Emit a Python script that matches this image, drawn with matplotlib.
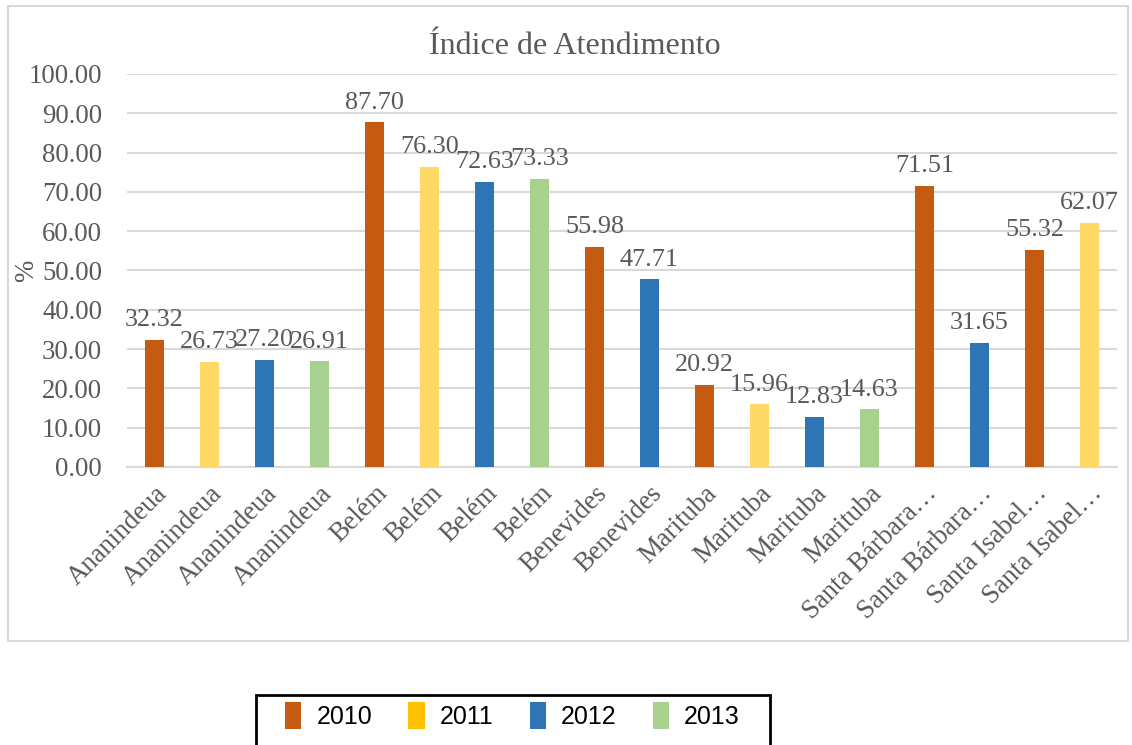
import matplotlib.pyplot as plt
from matplotlib.patches import Patch, Rectangle

categories = ['Ananindeua', 'Ananindeua', 'Ananindeua', 'Ananindeua',
              'Belém', 'Belém', 'Belém', 'Belém',
              'Benevides', 'Benevides',
              'Marituba', 'Marituba', 'Marituba', 'Marituba',
              'Santa Bárbara…', 'Santa Bárbara…',
              'Santa Isabel…', 'Santa Isabel…']
years = [2010, 2011, 2012, 2013,
         2010, 2011, 2012, 2013,
         2010, 2012,
         2010, 2011, 2012, 2013,
         2010, 2012,
         2010, 2011]
values = [32.32, 26.73, 27.20, 26.91,
          87.70, 76.30, 72.63, 73.33,
          55.98, 47.71,
          20.92, 15.96, 12.83, 14.63,
          71.51, 31.65,
          55.32, 62.07]

bar_colors = {2010: '#C55A11', 2011: '#FFD966', 2012: '#2E75B6', 2013: '#A9D18E'}
legend_colors = {2010: '#C55A11', 2011: '#FFC000', 2012: '#2E75B6', 2013: '#A9D18E'}

serif = 'Liberation Serif'
txt = '#595959'
W, H = 1132, 745

fig = plt.figure(figsize=(11.32, 7.45), dpi=100)
ax = fig.add_axes([0.1122, 0.3732, 0.8745, 0.5275])

# outer chart border
fig.patches.append(Rectangle((8 / W, 1 - 641 / H), 1120 / W, 635 / H,
                             transform=fig.transFigure, fill=False,
                             edgecolor='#D9D9D9', linewidth=1.5))
# legend box (runs off the bottom edge, as in the source)
fig.patches.append(Rectangle((256 / W, 1 - 770 / H), 514 / W, 75 / H,
                             transform=fig.transFigure, fill=False,
                             edgecolor='black', linewidth=2))

x = range(len(values))
ax.bar(x, values, width=0.33, color=[bar_colors[y] for y in years], zorder=3)
for xi, v in zip(x, values):
    ax.text(xi, v + 2.2, f'{v:.2f}', ha='center', va='bottom',
            fontsize=18.8, family=serif, color=txt)

ax.set_xlim(-0.5, len(values) - 0.5)
ax.set_ylim(0, 100)
ax.set_yticks(range(0, 101, 10))
ax.set_yticklabels([f'{t:.2f}' for t in range(0, 101, 10)],
                   fontsize=19.3, family=serif, color=txt)
ax.set_xticks(list(x))
ax.set_xticklabels(categories, rotation=45, ha='right', rotation_mode='anchor',
                   fontsize=19.3, family=serif, color=txt)
ax.tick_params(length=0, pad=10)
ax.tick_params(axis='y', pad=18)
ax.grid(axis='y', color='#D9D9D9', linewidth=1.5, zorder=0)
for s in ['top', 'right', 'left']:
    ax.spines[s].set_visible(False)
ax.spines['bottom'].set_color('#D9D9D9')
ax.spines['bottom'].set_linewidth(1.5)

ax.set_ylabel('%', fontsize=19.3, family=serif, color=txt)
ax.yaxis.set_label_coords(-0.089, 0.5)

fig.text(0.508, 0.937, 'Índice de Atendimento', ha='center', va='center',
         fontsize=23, family=serif, color=txt)

handles = [Patch(facecolor=legend_colors[y], label=str(y)) for y in [2010, 2011, 2012, 2013]]
fig.legend(handles=handles, loc='upper left', bbox_to_anchor=(285 / W, 1 - 702 / H),
           ncol=4, frameon=False, handlelength=0.65, handleheight=1.3,
           handletextpad=0.6, columnspacing=1.45, borderpad=0, borderaxespad=0,
           prop={'family': 'Liberation Sans', 'size': 18})

fig.savefig('out.png', dpi=100)
